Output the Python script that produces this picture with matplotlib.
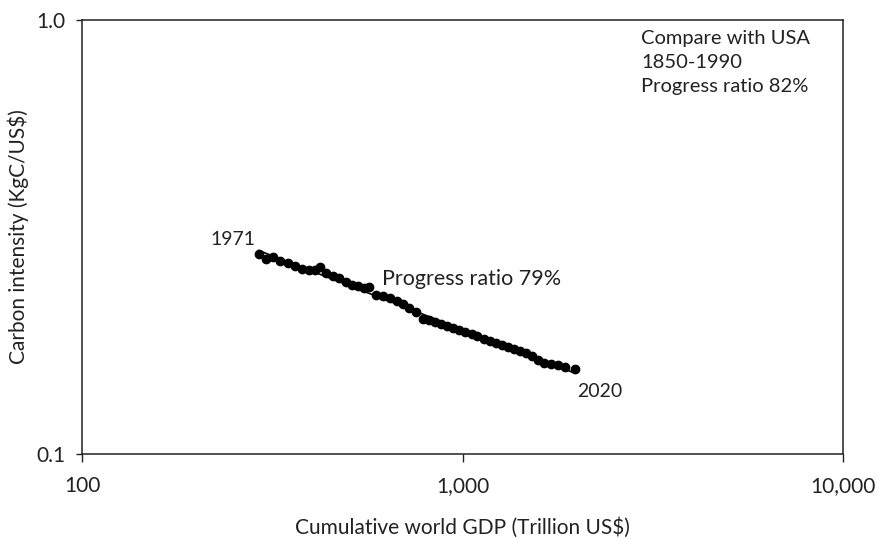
import matplotlib
matplotlib.use("Agg")
import matplotlib.pyplot as plt
import numpy as np
from matplotlib.ticker import FixedLocator, FixedFormatter, NullLocator

plt.rcParams['font.family'] = ['Lato', 'DejaVu Sans']

"cumulative world GDP, trillion US$ (1971-2020)"
gdp = np.array([291.3, 304.0, 317.2, 331.0, 347.5, 362.6, 378.3, 394.8, 409.4, 422.0,
                437.7, 456.7, 473.7, 494.3, 512.7, 531.7, 551.4, 568.4, 593.1, 618.8,
                645.7, 673.7, 698.7, 724.7, 756.1, 789.0, 818.2, 848.6, 880.0, 912.7,
                946.5, 981.9, 1018, 1056, 1095, 1136, 1178, 1222, 1267, 1314,
                1363, 1414, 1466, 1521, 1577, 1636, 1707, 1781, 1858, 1975])
"carbon intensity, kgC/US$"
ci = np.array([0.2884, 0.2808, 0.2838, 0.2778, 0.2749, 0.2705, 0.2662, 0.2648, 0.2648, 0.2691,
               0.2606, 0.2565, 0.2538, 0.2485, 0.2446, 0.2433, 0.2407, 0.2420, 0.2319, 0.2307,
               0.2283, 0.2247, 0.2212, 0.2165, 0.2120, 0.2043, 0.2032, 0.2011, 0.1990, 0.1969,
               0.1949, 0.1928, 0.1908, 0.1887, 0.1868, 0.1838, 0.1819, 0.1800, 0.1780, 0.1762,
               0.1743, 0.1725, 0.1707, 0.1680, 0.1645, 0.1619, 0.1610, 0.1602, 0.1585, 0.1568])

xticks = [100, 1000, 10000]
xticklabels = ["100", "1,000", "10,000"]
yticks = [0.1, 1.0]
yticklabels = ["0.1", "1.0"]

fig = plt.figure(figsize=(8.77, 5.39), dpi=100)
ax = fig.add_axes([82 / 877, 1 - 454 / 539, (843 - 82) / 877, (454 - 20) / 539])

ax.set_xscale('log')
ax.set_yscale('log')
ax.set_xlim(100, 10000)
ax.set_ylim(0.1, 1.0)

"trend line (power law fit)"
b, a = np.polyfit(np.log10(gdp), np.log10(ci), 1)
xf = np.array([gdp.min(), gdp.max()])
ax.plot(xf, 10 ** (a + b * np.log10(xf)), color='black', lw=1.2, zorder=2)

ax.plot(gdp, ci, 'o', color='black', ms=6, zorder=3)

ax.xaxis.set_major_locator(FixedLocator(xticks))
ax.xaxis.set_major_formatter(FixedFormatter(xticklabels))
ax.xaxis.set_minor_locator(NullLocator())
ax.yaxis.set_major_locator(FixedLocator(yticks))
ax.yaxis.set_major_formatter(FixedFormatter(yticklabels))
ax.yaxis.set_minor_locator(NullLocator())
ax.tick_params(axis='both', direction='out', width=1, labelsize=15, colors='#222222')
ax.tick_params(axis='x', length=6, pad=10)
ax.tick_params(axis='y', length=4, pad=8)
for s in ax.spines.values():
    s.set_linewidth(1.1)
    s.set_color('#222222')

ax.set_xlabel("Cumulative world GDP (Trillion US$)", fontsize=15, color='#222222', labelpad=15)
ax.set_ylabel("Carbon intensity (KgC/US$)", fontsize=15, color='#222222', labelpad=5)

ax.text(249, 0.312, "1971", fontsize=14, ha='center', va='center', color='#222222')
ax.text(2290, 0.1396, "2020", fontsize=14, ha='center', va='center', color='#222222')
ax.text(615, 0.253, "Progress ratio 79%", fontsize=15.5, ha='left', va='center', color='#222222')
ax.text(0.735, 0.978, "Compare with USA\n1850-1990\nProgress ratio 82%", transform=ax.transAxes,
        fontsize=14.5, ha='left', va='top', color='#222222', linespacing=1.5)

fig.savefig("out.png", dpi=100)
